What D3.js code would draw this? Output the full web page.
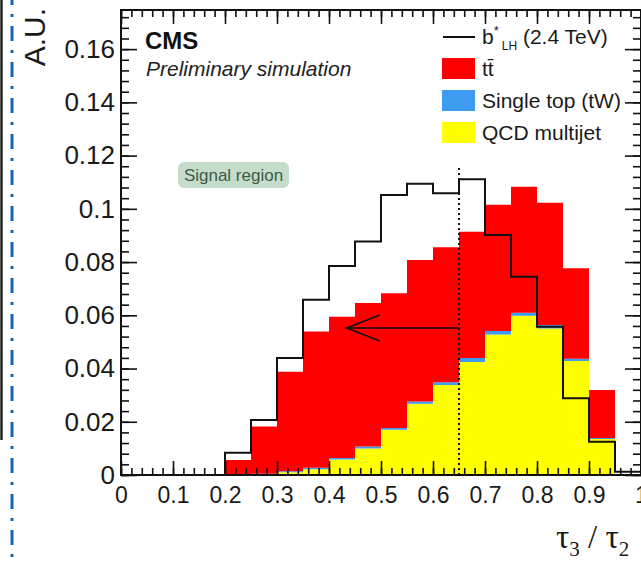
<!DOCTYPE html>
<html>
<head>
<meta charset="utf-8">
<script src="https://cdn.jsdelivr.net/npm/d3@7"></script>
<style>
  body { margin: 0; background: #fff; }
  svg { display: block; font-family: 'Liberation Sans', Arial, sans-serif; }
  .axis line { stroke: #111; stroke-width: 1.6; }
  .axis text { fill: #1a1a1a; }
</style>
</head>
<body>
<script>
// lower edges of the tau3/tau2 bins (0.05 wide)
const binEdges = [0, 0.05, 0.1, 0.15, 0.2, 0.25, 0.3, 0.35, 0.4, 0.45,
                  0.5, 0.55, 0.6, 0.65, 0.7, 0.75, 0.8, 0.85, 0.9, 0.95];
const binWidth = 0.05;
// b*_LH (2.4 TeV) signal, drawn as outline
const signal = [0, 0, 0, 0, 0.0084, 0.0207, 0.0440, 0.0658, 0.0785, 0.0877,
                0.1052, 0.1094, 0.1059, 0.1111, 0.0902, 0.0745, 0.0557, 0.0288, 0.0125, 0.0012];
// stacked backgrounds, bottom to top: QCD, single top, ttbar
const qcd = [0, 0, 0, 0, 0, 0.0002, 0.0010, 0.0022, 0.0058, 0.0100,
             0.0170, 0.0268, 0.0338, 0.0425, 0.0528, 0.0598, 0.0550, 0.0428, 0.0135, 0];
const singleTop = [0, 0, 0, 0, 0, 0.0003, 0.0004, 0.0005, 0.0006, 0.0007,
                   0.0007, 0.0008, 0.0010, 0.0015, 0.0013, 0.0012, 0.0014, 0.0009, 0.0004, 0];
const ttbar = [0, 0, 0, 0, 0.0056, 0.0177, 0.0374, 0.0512, 0.0531, 0.0539,
               0.0506, 0.0532, 0.0508, 0.0474, 0.0474, 0.0473, 0.0459, 0.0340, 0.0180, 0];
const xTickLabels = ['0', '0.1', '0.2', '0.3', '0.4', '0.5', '0.6', '0.7', '0.8', '0.9', '1'];
const yTickLabels = ['0', '0.02', '0.04', '0.06', '0.08', '0.1', '0.12', '0.14', '0.16'];
const yMax = 0.1747;
const cutValue = 0.65;     // signal region cut tau3/tau2 < 0.65
const cutLineTop = 0.116;
const arrowTip = 0.434;
const arrowLevel = 0.0552;

const width = 641;
const height = 562;
const svg = d3.select('body').append('svg').attr('width', width).attr('height', height);
svg.append('rect').attr('width', width).attr('height', height).attr('fill', '#fff');

// page border bits on the left edge of the screenshot
svg.append('line').attr('x1', 1.5).attr('x2', 1.5).attr('y1', 0).attr('y2', 440)
   .attr('stroke', '#222').attr('stroke-width', 2.5);
svg.append('line').attr('x1', 12).attr('x2', 12).attr('y1', 0).attr('y2', height)
   .attr('stroke', '#1566b4').attr('stroke-width', 3)
   .attr('stroke-dasharray', '15,9,3,9').attr('stroke-dashoffset', 10);

const x = d3.scaleLinear().domain([0, 1]).range([121, 641]);
const y = d3.scaleLinear().domain([0, yMax]).range([475, 10]);

// rows for the stack, plus a closing row at x = 1 for the step curve
const rows = binEdges.map((e, i) => ({ edge: e, qcd: qcd[i], singleTop: singleTop[i], ttbar: ttbar[i] }));
rows.push({ ...rows[rows.length - 1], edge: binEdges[binEdges.length - 1] + binWidth });

const layers = d3.stack().keys(['qcd', 'singleTop', 'ttbar'])(rows);
const colors = { qcd: '#ffff00', singleTop: '#3d9bf0', ttbar: '#ff0000' };

const area = d3.area()
  .curve(d3.curveStepAfter)
  .x(d => x(d.data.edge))
  .y0(d => y(d[0]))
  .y1(d => y(d[1]));

svg.append('g').selectAll('path')
  .data(layers)
  .enter().append('path')
    .attr('fill', d => colors[d.key])
    .attr('d', area);

// signal outline
const sigPts = binEdges.map((e, i) => ({ edge: e, v: signal[i] }));
sigPts.push({ edge: binEdges[binEdges.length - 1] + binWidth, v: 0 });
svg.append('path')
  .attr('fill', 'none')
  .attr('stroke', '#111')
  .attr('stroke-width', 2)
  .attr('d', d3.line().curve(d3.curveStepAfter).x(d => x(d.edge)).y(d => y(d.v))(sigPts));

// cut line and arrow
svg.append('line')
  .attr('x1', x(cutValue)).attr('x2', x(cutValue))
  .attr('y1', y(0)).attr('y2', y(cutLineTop))
  .attr('stroke', '#111').attr('stroke-width', 2).attr('stroke-dasharray', '2,3');
svg.append('line')
  .attr('x1', x(cutValue)).attr('x2', x(arrowTip))
  .attr('y1', y(arrowLevel)).attr('y2', y(arrowLevel))
  .attr('stroke', '#111').attr('stroke-width', 1.6);
svg.append('path')
  .attr('fill', 'none').attr('stroke', '#111').attr('stroke-width', 1.6)
  .attr('d', `M${x(arrowTip) + 33},${y(arrowLevel) - 13}L${x(arrowTip)},${y(arrowLevel)}L${x(arrowTip) + 33},${y(arrowLevel) + 13}`);

// axes with ROOT-style inward ticks
const xTicks = xTickLabels.map(Number);
const yTicks = yTickLabels.map(Number);
const xMinor = x.ticks(50);
const yMinor = d3.range(0, yMax, 0.004);
const noDomain = g => g.select('.domain').remove();

const addAxis = (axis, tx, ty, size) => svg.append('g')
  .attr('class', 'axis')
  .attr('transform', `translate(${tx},${ty})`)
  .call(axis)
  .call(noDomain)
  .attr('font-size', size)
  .attr('font-family', "'Liberation Sans', Arial, sans-serif");

addAxis(d3.axisBottom(x).tickValues(xTicks).tickSize(-14).tickPadding(12).tickFormat((d, i) => xTickLabels[i]), 0, y(0), 23);
addAxis(d3.axisBottom(x).tickValues(xMinor).tickSize(-7).tickFormat(''), 0, y(0), 10);
addAxis(d3.axisTop(x).tickValues(xTicks).tickSize(-14).tickFormat(''), 0, y(yMax), 10);
addAxis(d3.axisTop(x).tickValues(xMinor).tickSize(-7).tickFormat(''), 0, y(yMax), 10);
addAxis(d3.axisLeft(y).tickValues(yTicks).tickSize(-16).tickPadding(6).tickFormat((d, i) => yTickLabels[i]), x(0), 0, 26);
addAxis(d3.axisLeft(y).tickValues(yMinor).tickSize(-8).tickFormat(''), x(0), 0, 10);
addAxis(d3.axisRight(y).tickValues(yTicks).tickSize(-16).tickFormat(''), x(1), 0, 10);
addAxis(d3.axisRight(y).tickValues(yMinor).tickSize(-8).tickFormat(''), x(1), 0, 10);

svg.append('rect')
  .attr('x', x(0)).attr('y', y(yMax))
  .attr('width', x(1) - x(0)).attr('height', y(0) - y(yMax))
  .attr('fill', 'none').attr('stroke', '#111').attr('stroke-width', 2);

// axis titles
svg.append('text')
  .attr('transform', `translate(45, 8)rotate(-90)`)
  .attr('text-anchor', 'end')
  .attr('font-size', 30)
  .attr('fill', '#1a1a1a')
  .text('A.U.');

const xTitle = svg.append('text')
  .attr('x', 556).attr('y', 548)
  .attr('font-family', "'Liberation Serif', 'DejaVu Serif', serif")
  .attr('font-size', 33)
  .attr('fill', '#1a1a1a');
xTitle.append('tspan').text('τ');
xTitle.append('tspan').attr('font-size', 21).attr('dy', 8).text('3');
xTitle.append('tspan').attr('dy', -8).text(' / τ');
xTitle.append('tspan').attr('font-size', 21).attr('dy', 8).text('2');

// CMS label
svg.append('text')
  .attr('x', 145).attr('y', 49)
  .attr('font-size', 24).attr('font-weight', 'bold').attr('fill', '#111')
  .text('CMS');
svg.append('text')
  .attr('x', 146).attr('y', 76)
  .attr('font-size', 21).attr('font-style', 'italic').attr('fill', '#222')
  .text('Preliminary simulation');

// signal region tag
svg.append('rect')
  .attr('x', 178).attr('y', 162).attr('width', 111).attr('height', 26).attr('rx', 6)
  .attr('fill', '#c6dcca');
svg.append('text')
  .attr('x', 233.5).attr('y', 181)
  .attr('text-anchor', 'middle')
  .attr('font-size', 17).attr('fill', '#3b5a47')
  .text('Signal region');

// legend
const legend = svg.append('g').attr('font-size', 21).attr('fill', '#1a1a1a');
legend.append('line').attr('x1', 443).attr('x2', 475).attr('y1', 37).attr('y2', 37)
  .attr('stroke', '#111').attr('stroke-width', 2);
const sigLabel = legend.append('text').attr('x', 482).attr('y', 44);
sigLabel.append('tspan').text('b');
sigLabel.append('tspan').attr('font-size', 13).attr('dy', -9).text('*');
sigLabel.append('tspan').attr('font-size', 12).attr('dy', 15).attr('dx', 3).text('LH');
sigLabel.append('tspan').attr('dy', -6).text(' (2.4 TeV)');

const boxEntries = [
  { key: 'ttbar', label: 't\u0074\u0304', cy: 69 },
  { key: 'singleTop', label: 'Single top (tW)', cy: 101 },
  { key: 'qcd', label: 'QCD multijet', cy: 133 }
];
boxEntries.forEach((e) => {
  legend.append('rect')
    .attr('x', 442).attr('y', e.cy - 11).attr('width', 33).attr('height', 21)
    .attr('fill', colors[e.key]);
  legend.append('text').attr('x', 482).attr('y', e.cy + 7).text(e.label);
});
</script>
</body>
</html>
